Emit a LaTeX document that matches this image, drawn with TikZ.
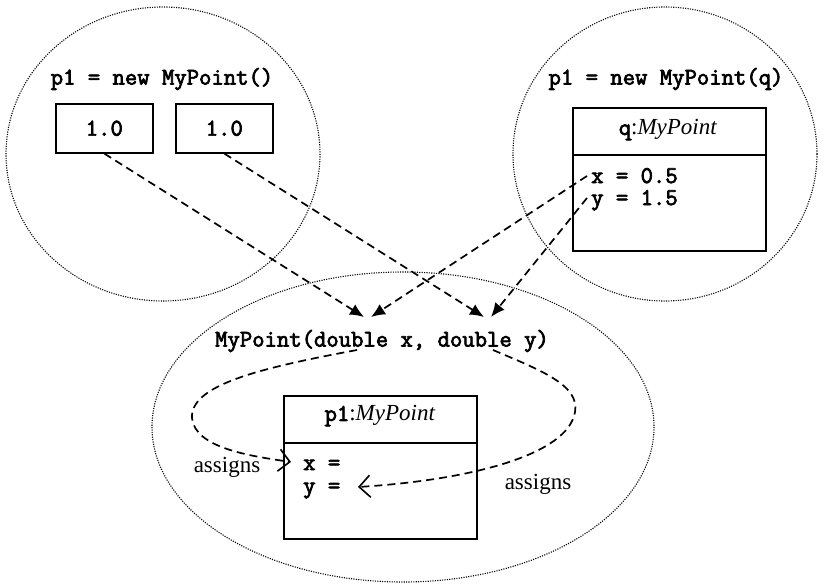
\documentclass[tikz,border=0pt]{standalone}
\usepackage{fontspec}
\setmainfont{Liberation Serif}
\newfontfamily\monof[AutoFakeBold=3]{Latin Modern Mono}
\usetikzlibrary{arrows.meta}
\begin{document}
\begin{tikzpicture}[x=1pt,y=-1pt,
  scope/.style={draw, dash pattern=on 1.1pt off 1.3pt, line width=1.1pt},
  box/.style={draw, line width=1.6pt, inner sep=0pt},
  code/.style={inner sep=0pt, font=\monof\bfseries\fontsize{24}{27}\selectfont},
  codeline/.style={code, anchor=west, text height=12pt, text depth=4pt},
  serif/.style={inner sep=0pt, font=\fontsize{23}{27}\selectfont},
  conn/.style={line width=1.7pt, dash pattern=on 8pt off 5pt},
  fill tip/.style={-{Latex[length=14pt,width=12pt]}},
  open tip/.style={-{Straight Barb[length=11pt,width=22pt,line width=1.6pt]}}
]
\useasboundingbox (0,0) rectangle (828,586);
% scopes
\draw[scope] (163,154) ellipse [x radius=157, y radius=147];
\draw[scope] (665,154) ellipse [x radius=152, y radius=147];
\draw[scope] (403,427) ellipse [x radius=251, y radius=155];

% left scope
\node[code] (lbl1) at (162,79) {p1 = new MyPoint()};
\node[box, minimum width=97, minimum height=49, anchor=north west, code] (b1) at (55,103) {1.0};
\node[box, minimum width=97, minimum height=49, anchor=north west, code] (b2) at (175,103) {1.0};

% right scope
\node[code] (lbl2) at (666,79) {p1 = new MyPoint(q)};
\node[box, minimum width=193, minimum height=143, anchor=north west] (qbox) at (572,107) {};
\draw[line width=1.6pt] (572,155) -- (765,155);
\node[inner sep=0pt, font=\fontsize{23}{27}\selectfont] (qname) at (668,130) {{\monof\bfseries\fontsize{24}{27}\selectfont q}:\textit{MyPoint}};
\node[codeline] (qx) at (591,179) {x = 0.5};
\node[codeline] (qy) at (591,201) {y = 1.5};

% bottom scope
\node[code] (ctor) at (382,341) {MyPoint(double x, double y)};
\node[box, minimum width=193, minimum height=143, anchor=north west] (pbox) at (283,395) {};
\draw[line width=1.6pt] (283,443) -- (476,443);
\node[inner sep=0pt, font=\fontsize{23}{27}\selectfont] (pname) at (380,416) {{\monof\bfseries\fontsize{24}{27}\selectfont p1}:\textit{MyPoint}};
\node[codeline] (px) at (303,466) {x =};
\node[codeline] (py) at (303,489) {y =};
\node[serif] (as1) at (227,467) {assigns};
\node[serif] (as2) at (538,484) {assigns};

% arrow tips
\coordinate (t1) at (364,317);
\coordinate (t2) at (371,317);
\coordinate (t3) at (484,317);
\coordinate (t4) at (491,317);
\coordinate (c1) at (357,350);
\coordinate (c2) at (493,350);
\coordinate (e1) at (291,462);
\coordinate (e2) at (358,487);

\draw[conn, fill tip] (b1.south) -- (t1);
\draw[conn, fill tip] (b2.south) -- (t3);
\draw[conn, fill tip] ([xshift=-4pt,yshift=3pt]qx.west) -- (t2);
\draw[conn, fill tip] ([xshift=-4pt,yshift=3pt]qy.west) -- (t4);

\draw[conn, open tip] (c1) .. controls (260,368) and (190,385) .. (192,418)
   .. controls (195,448) and (250,456) .. (e1);
\draw[conn, open tip] (c2) .. controls (540,370) and (580,385) .. (575,412)
   .. controls (568,455) and (470,480) .. (e2);
\end{tikzpicture}
\end{document}
